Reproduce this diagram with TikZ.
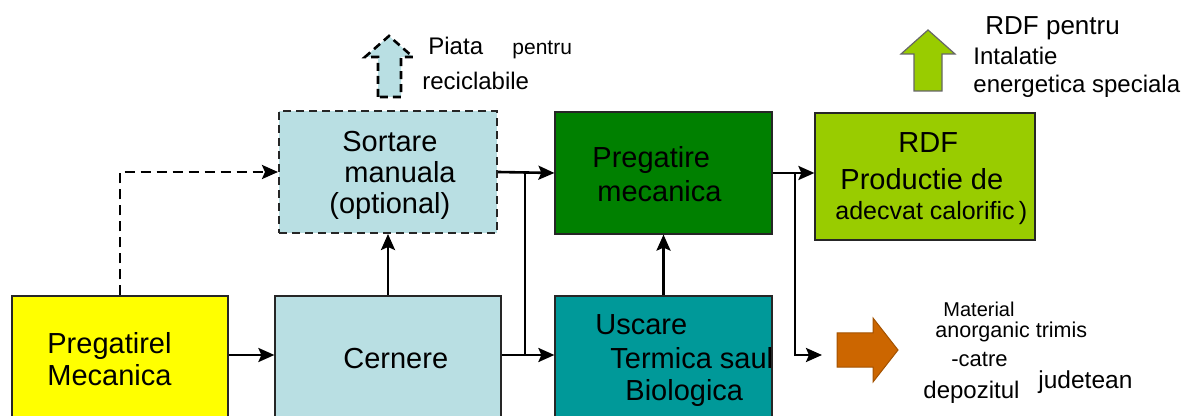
\documentclass[tikz,border=0pt]{standalone}
\usepackage{fontspec}
\setmainfont{Liberation Sans}
\usetikzlibrary{arrows.meta}

\definecolor{galben}{HTML}{FFFF00}
\definecolor{bleu}{HTML}{B9DFE3}
\definecolor{verde}{HTML}{008000}
\definecolor{turcoaz}{HTML}{009999}
\definecolor{lime2}{HTML}{99CC00}
\definecolor{oranj}{HTML}{CC6600}

\begin{document}
\begin{tikzpicture}[x=0.5pt, y=-0.5pt,
  box/.style={draw=black!85, line width=0.6pt, inner sep=0pt},
  lbl/.style={anchor=base west, inner sep=0pt, font=\fontsize{#1}{#1}\selectfont},
  lbl/.default=14.5,
  conn/.style={line width=1.3pt, -{Stealth[length=8pt,width=7pt,inset=1.5pt]}},
  wire/.style={line width=1.3pt}]
\useasboundingbox (0,0) rectangle (1187,416);
\clip (0,0) rectangle (1187,416);

% boxes
\node[box, fill=galben, minimum width=108pt, minimum height=72pt] (prep) at (120,368) {};
\node[box, fill=bleu, minimum width=113pt, minimum height=72pt] (cern) at (388,368) {};
\node[box, fill=bleu, dashed, dash pattern=on 4pt off 2.5pt, line width=1pt,
      minimum width=109pt, minimum height=61pt] (sort) at (388,172) {};
\node[box, fill=verde, minimum width=108.5pt, minimum height=61pt] (pmec) at (663.5,173) {};
\node[box, fill=turcoaz, minimum width=108.5pt, minimum height=72pt] (usc) at (663.5,368) {};
\node[box, fill=lime2, minimum width=110pt, minimum height=63.5pt] (rdf) at (925,176.5) {};

% box texts
\node[lbl] (prep1) at (47,353) {Pregatirel};
\node[lbl] (prep2) at (47,386) {Mecanica};
\node[lbl] (cern1) at (343,368) {Cernere};
\node[lbl] (sort1) at (342,152) {Sortare};
\node[lbl] (sort2) at (344,183) {manuala};
\node[lbl] (sort3) at (329,214) {(optional)};
\node[lbl] (pmec1) at (592,168) {Pregatire};
\node[lbl] (pmec2) at (597,202) {mecanica};
\node[lbl] (usc1) at (595,335) {Uscare};
\node[lbl] (usc2) at (610,368) {Termica saul};
\node[lbl] (usc3) at (625,400) {Biologica};
\node[lbl] (rdf1) at (898,153) {RDF};
\node[lbl] (rdf2) at (840,190) {Productie de};
\node[lbl=12.5] (rdf3) at (835,220) {adecvat calorific\,)};

% connectors
\draw[conn] (prep.east |- 0,355) -- (cern.west |- 0,355);
\draw[conn] (cern.north) -- (sort.south);
\draw[conn, dashed, dash pattern=on 5pt off 3pt] (prep.north) |- (sort.west);
\draw[conn] (sort.east) -- (pmec.west);
\coordinate (j1) at (525,172);
\draw[wire] (j1) -- (j1 |- 0,355);
\draw[conn] (cern.east |- 0,355) -- (usc.west |- 0,355);
\draw[conn] (usc.north) -- (pmec.south);
\draw[conn] (pmec.east) -- (rdf.west |- pmec.east);
\coordinate (j2) at (795,173);
\coordinate (dep) at (822,355);
\draw[conn] (j2) |- (dep);

% block arrows
\draw[dashed, dash pattern=on 4pt off 2.5pt, fill=bleu, line width=1.3pt]
  (378,97) -- (378,57) -- (365,57) -- (389,36) -- (413,57) -- (401,57) -- (401,97) -- cycle;
\draw[fill=lime2, draw=black!60, line width=0.6pt]
  (914,91) -- (914,54) -- (901,54) -- (928,30) -- (955,54) -- (942,54) -- (942,91) -- cycle;
\draw[fill=oranj, draw=oranj!80!black, line width=0.5pt]
  (837,333) -- (873,333) -- (873,318) -- (898,350) -- (873,382) -- (873,367) -- (837,367) -- cycle;

% outside texts
\node[lbl=12] (piata) at (428,55) {Piata};
\node[lbl=10.5] (pentru) at (512,55) {pentru};
\node[lbl=12] (recic) at (422,90) {reciclabile};
\node[lbl=13] (rdfp) at (985,35) {RDF pentru};
\node[lbl=12] (intal) at (973,65) {Intalatie};
\node[lbl=12] (energ) at (973,93) {energetica speciala};
\node[lbl=10] (mat1) at (943,317) {Material};
\node[lbl=10.75] (mat2) at (935,337) {anorganic trimis};
\node[lbl=11] (mat3) at (951,366) {-catre};
\node[lbl=12] (mat4) at (923,398) {depozitul};
\node[lbl=12.25] (mat5) at (1038,388) {judetean};
\end{tikzpicture}
\end{document}
